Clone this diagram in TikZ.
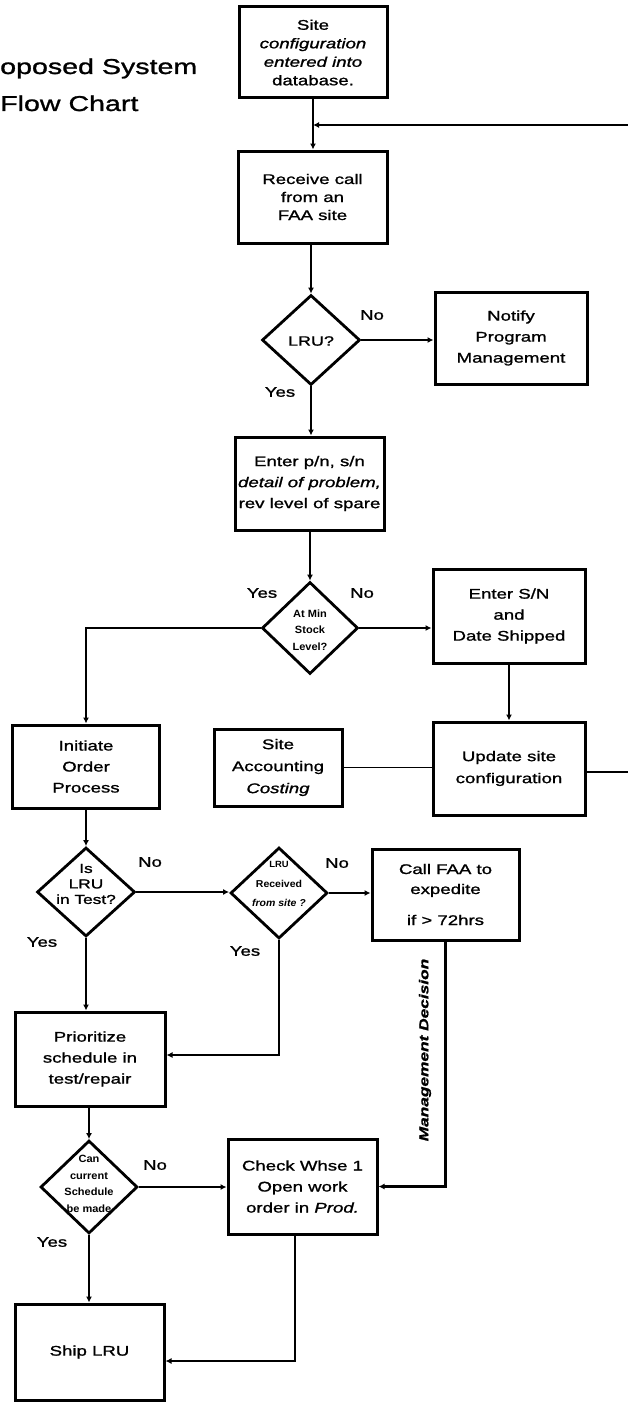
\documentclass[tikz,border=0pt]{standalone}
\usepackage{fontspec}
\setmainfont{Liberation Sans}[FakeStretch=1.33,FakeBold=1.2]
\newfontfamily\narrowsans{Liberation Sans}[FakeStretch=1.05]
\usetikzlibrary{arrows.meta,shapes.geometric}
\begin{document}
\begin{tikzpicture}[x=1pt,y=-1pt,
  pbox/.style 2 args={draw,line width=3pt,rectangle,inner sep=0pt,align=center,
     minimum width=#1,minimum height=#2,font=\fontsize{14}{21}\selectfont},
  dia/.style 2 args={draw,line width=2.8pt,diamond,inner sep=0pt,minimum width=#1,minimum height=#2},
  dtxt/.style={align=center,inner sep=0pt},
  conn/.style={line width=2.6pt,-{Latex[length=6pt,width=6pt]}},
  plain/.style={line width=2.6pt},
  thinline/.style={line width=1.4pt},
  lbl/.style={inner sep=0pt,font=\fontsize{14}{16}\selectfont},
  ttl/.style={inner sep=0pt,anchor=base west,font=\fontsize{21.5}{24}\selectfont},
]
\fill[white] (0,0) rectangle (628,1402);
\useasboundingbox (0,0) rectangle (628,1402);

% title
\node[ttl] (t1) at (0,74) {oposed System};
\node[ttl] (t2) at (0,111) {Flow Chart};

% boxes
\node[pbox={148pt}{91pt},font=\fontsize{14}{18.5}\selectfont] (site) at (313,52.5)
  {Site\\\textit{configuration}\\\textit{entered into}\\database.};
\node[pbox={149pt}{92pt},font=\fontsize{14}{18}\selectfont] (recv) at (312.5,197)
  {Receive call\\from an\\FAA site};
\node[pbox={152pt}{92pt}] (notify) at (511,338) {Notify\\Program\\Management};
\node[pbox={149pt}{93pt}] (enter) at (309.5,483.5)
  {Enter p/n, s/n\\\textit{detail of problem,}\\rev level of spare};
\node[pbox={152pt}{94pt}] (entsn) at (509,616) {Enter S/N\\and\\Date Shipped};
\node[pbox={152pt}{93pt},font=\fontsize{14}{22}\selectfont] (update) at (509,768.5)
  {Update site\\configuration};
\node[pbox={128pt}{77pt},font=\fontsize{14}{22}\selectfont] (acct) at (278,767.5)
  {Site\\Accounting\\\textit{Costing}};
\node[pbox={147pt}{83pt}] (init) at (86,766.5) {Initiate\\Order\\Process};
\node[pbox={147pt}{91pt},font=\fontsize{14}{20}\selectfont] (call) at (445.5,894.5)
  {Call FAA to\\expedite\\[11pt]if > 72hrs};
\node[pbox={150pt}{94pt}] (prio) at (90,1059) {Prioritize\\schedule in\\test/repair};
\node[pbox={149pt}{95pt}] (check) at (302.5,1186.5)
  {Check Whse 1\\Open work\\order in \textit{Prod.}};
\node[pbox={149pt}{96pt}] (ship) at (89.5,1352) {Ship LRU};

% diamonds
\node[dia={98pt}{90pt}] (lru) at (311,340) {};
\node[dtxt,font=\fontsize{13.5}{16}\selectfont] (lrut) at (311,341) {LRU?};
\node[dia={96pt}{92pt}] (atmin) at (310,628) {};
\node[dtxt,font=\narrowsans\bfseries\fontsize{10.5}{16.5}\selectfont] (atmint) at (310,630)
  {At Min\\Stock\\Level?};
\node[dia={98pt}{89pt}] (islru) at (86,892) {};
\node[dtxt,font=\fontsize{13}{15.5}\selectfont] (islrut) at (86,884) {Is\\LRU\\in Test?};
\node[dia={97pt}{91pt}] (lrurec) at (279,893) {};
\node[dtxt,font=\narrowsans\bfseries\fontsize{10}{19.5}\selectfont] (lrurect) at (279,884)
  {{\fontsize{9}{19.5}\selectfont LRU}\\Received\\\textit{from site ?}};
\node[dia={97pt}{93pt}] (can) at (89,1187) {};
\node[dtxt,font=\narrowsans\bfseries\fontsize{10.5}{16.5}\selectfont] (cant) at (89,1184)
  {Can\\current\\Schedule\\be made};

% yes / no labels
\node[lbl] (n1) at (372,315) {No};
\node[lbl] (y1) at (280,392) {Yes};
\node[lbl] (y2) at (262,593) {Yes};
\node[lbl] (n2) at (362,593) {No};
\node[lbl] (n3) at (150,862) {No};
\node[lbl] (y3) at (42,942) {Yes};
\node[lbl] (n4) at (337,863) {No};
\node[lbl] (y4) at (245,951) {Yes};
\node[lbl] (n5) at (155,1165) {No};
\node[lbl] (y5) at (52,1242) {Yes};

% management decision
\node[inner sep=0pt,rotate=90,font=\bfseries\itshape\fontsize{13}{15}\selectfont] (md) at (425,1050)
  {Management Decision};

% connectors
\coordinate (fbR) at (628,125);
\coordinate (updR) at (628,772);
\draw[conn] (site.south) -- (site.south |- recv.north);
\draw[conn] (fbR) -- (fbR -| site.south);
\draw[conn] (lru.north |- recv.south) -- (lru.north);
\draw[conn] (lru.east) -- (notify.west |- lru.east);
\draw[conn] (lru.south) -- (lru.south |- enter.north);
\draw[conn] (atmin.north |- enter.south) -- (atmin.north);
\draw[conn] (atmin.east) -- (entsn.west |- atmin.east);
\draw[conn] (atmin.west) -| (init.north);
\draw[conn] (entsn.south) -- (update.north);
\draw[thinline] (acct.east) -- (acct.east -| update.west);
\draw[plain] (updR -| update.east) -- (updR);
\draw[conn] (islru.north |- init.south) -- (islru.north);
\draw[conn] (islru.east) -- (islru.east -| lrurec.west);
\draw[conn] (lrurec.east) -- (lrurec.east -| call.west);
\draw[conn] (islru.south) -- (islru.south |- prio.north);
\draw[conn] (lrurec.south) |- ([yshift=4pt]prio.east);
\draw[conn] (can.north |- prio.south) -- (can.north);
\draw[conn] (can.east) -- (can.east -| check.west);
\draw[conn] (call.south) |- (check.east);
\draw[conn] (can.south) -- (can.south |- ship.north);
\draw[conn] ([xshift=-7.5pt]check.south) |- ([yshift=-9pt]ship.east);
\end{tikzpicture}
\end{document}
